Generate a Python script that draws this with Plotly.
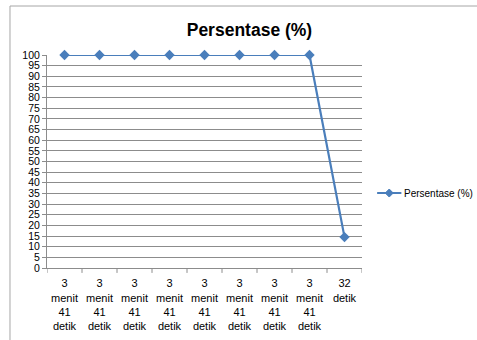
import plotly.graph_objects as go

# Waktu tempuh tiap percobaan dan persentase yang dicapai
categories = [
    "3<br>menit<br>41<br>detik",
    "3<br>menit<br>41<br>detik",
    "3<br>menit<br>41<br>detik",
    "3<br>menit<br>41<br>detik",
    "3<br>menit<br>41<br>detik",
    "3<br>menit<br>41<br>detik",
    "3<br>menit<br>41<br>detik",
    "3<br>menit<br>41<br>detik",
    "32<br>detik<br> <br> ",
]
persentase = [100, 100, 100, 100, 100, 100, 100, 100, 14.5]
y_ticks = list(range(0, 101, 5))
series_name = "Persentase (%)"

blue = "#4a7ebb"
grid = "#8c8c8c"
font_family = "Liberation Sans, Arial, sans-serif"

fig = go.Figure()
fig.add_trace(go.Scatter(
    x=list(range(len(categories))),
    y=persentase,
    mode="lines+markers",
    name=series_name,
    line=dict(color=blue, width=2.2),
    marker=dict(symbol="diamond", size=8, color=blue),
    cliponaxis=False,
    showlegend=False,
))

fig.update_layout(
    width=477,
    height=340,
    margin=dict(l=47, r=115, t=55, b=72, autoexpand=False),
    paper_bgcolor="white",
    plot_bgcolor="white",
    font=dict(family=font_family, size=10, color="#000000"),
    title=dict(
        text="<b>Persentase (%)</b>",
        x=0.523, xanchor="center",
        y=0.912, yanchor="middle",
        font=dict(size=17.5, family=font_family, color="#000000"),
    ),
    xaxis=dict(
        range=[-0.5, len(categories) - 0.5],
        tickmode="array",
        tickvals=list(range(len(categories))),
        ticktext=categories,
        tickangle=0,
        showgrid=False,
        showline=True,
        linecolor=grid,
        linewidth=1,
        ticks="",
        ticklabelstandoff=5,
        zeroline=False,
        tickfont=dict(size=11),
        automargin=False,
        fixedrange=True,
    ),
    yaxis=dict(
        range=[0, 100],
        tickmode="array",
        tickvals=y_ticks,
        ticktext=[str(v) for v in y_ticks],
        showgrid=True,
        gridcolor=grid,
        gridwidth=1,
        showline=True,
        linecolor=grid,
        linewidth=1,
        ticks="outside",
        ticklen=4,
        tickcolor=grid,
        zeroline=False,
        tickfont=dict(size=10.5),
        automargin=False,
        fixedrange=True,
    ),
)

# Garis pemisah antar kategori di bawah sumbu x
for i in range(len(categories) + 1):
    fig.add_shape(
        type="line", xref="x", yref="paper",
        x0=i - 0.5, x1=i - 0.5, y0=0, y1=-0.023,
        line=dict(color=grid, width=1),
    )

# Legenda: garis dengan penanda belah ketupat
lx0, lx1, ly = 1.048, 1.125, 0.352
fig.add_shape(
    type="line", xref="paper", yref="paper",
    x0=lx0, x1=lx1, y0=ly, y1=ly,
    line=dict(color=blue, width=2),
)
lxm = (lx0 + lx1) / 2
dx, dy = 4 / 315, 4 / 213
fig.add_shape(
    type="path", xref="paper", yref="paper",
    path=f"M {lxm - dx} {ly} L {lxm} {ly + dy} L {lxm + dx} {ly} L {lxm} {ly - dy} Z",
    fillcolor=blue, line=dict(color=blue, width=1),
)
fig.add_annotation(
    xref="paper", yref="paper",
    x=lx1 + 0.002, y=ly, xanchor="left", yanchor="middle",
    text=series_name, showarrow=False,
    font=dict(size=10, family=font_family),
)

# Bingkai area grafik
fig.add_shape(
    type="line", xref="paper", yref="paper",
    x0=-0.1175, x1=1.5, y0=1.23, y1=1.23,
    line=dict(color="#a6a6a6", width=1),
)
fig.add_shape(
    type="line", xref="paper", yref="paper",
    x0=-0.1175, x1=-0.1175, y0=1.23, y1=-0.5,
    line=dict(color="#a6a6a6", width=1),
)

fig.write_html("out.html")
